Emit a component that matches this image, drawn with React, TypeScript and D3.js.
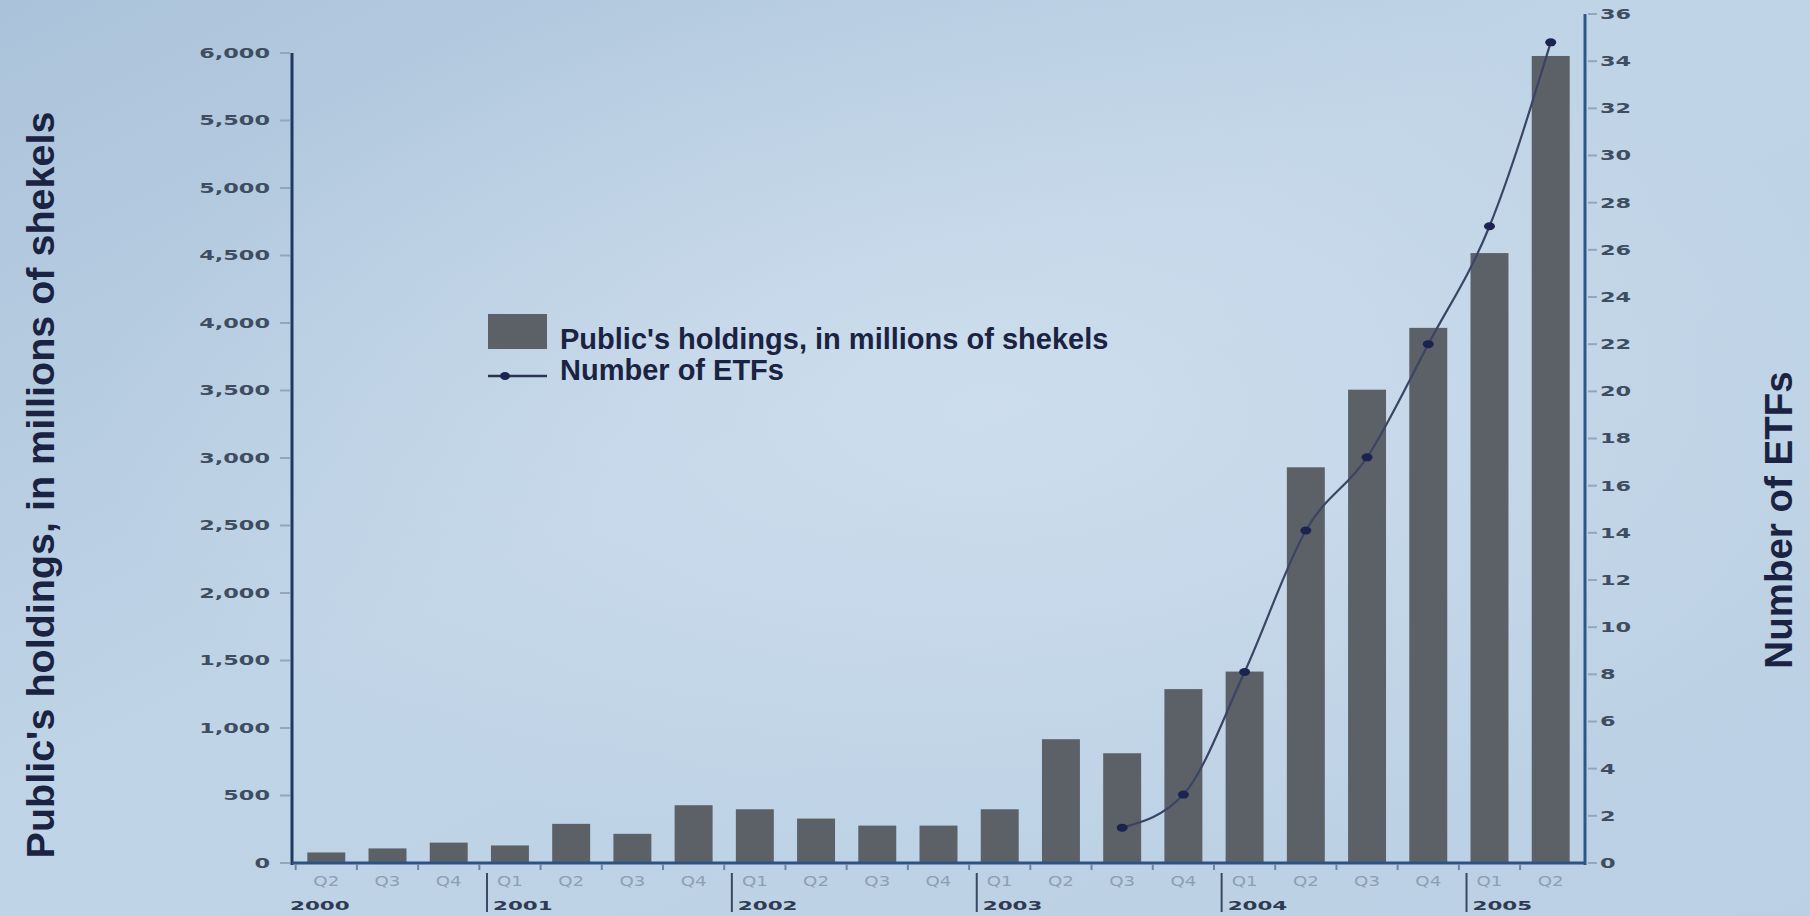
import React from 'react';
import * as d3 from 'd3';

const quarterLabels = ['Q2','Q3','Q4','Q1','Q2','Q3','Q4','Q1','Q2','Q3','Q4','Q1','Q2','Q3','Q4','Q1','Q2','Q3','Q4','Q1','Q2'];
const categoryYears = ['2000','2000','2000','2001','2001','2001','2001','2002','2002','2002','2002','2003','2003','2003','2003','2004','2004','2004','2004','2005','2005'];
const holdings = [78,108,151,130,290,216,428,398,329,277,277,398,917,813,1288,1418,2931,3506,3964,4518,5978];
const etfCounts: (number | null)[] = [null,null,null,null,null,null,null,null,null,null,null,null,null,1.5,2.9,8.1,14.1,17.2,22,27,34.8];
const leftTicks = [0,500,1000,1500,2000,2500,3000,3500,4000,4500,5000,5500,6000];
const rightTicks = [0,2,4,6,8,10,12,14,16,18,20,22,24,26,28,30,32,34,36];
const barLegend = "Public's holdings, in millions of shekels";
const lineLegend = 'Number of ETFs';
const leftTitle = "Public's holdings, in millions of shekels";
const rightTitle = 'Number of ETFs';

const W = 1810, H = 916;
const X0 = 292, X1 = 1585, Y0 = 863;

export default function App() {
  const cats = quarterLabels.map((q, i) => `${categoryYears[i]}-${q}-${i}`);
  const x = d3.scaleBand<string>().domain(cats).range([X0, X1]).paddingInner(0.38).paddingOuter(0.25);
  const yL = d3.scaleLinear().domain([0, 6000]).range([Y0, 53]);
  const yR = d3.scaleLinear().domain([0, 36]).range([Y0, 14]);
  const bw = x.bandwidth();
  const step = x.step();
  const cx = (i: number) => (x(cats[i]) as number) + bw / 2;

  const lineData = etfCounts.map((v, i) => ({ v, i }));
  const lineGen = d3.line<{ v: number | null; i: number }>()
    .defined(d => d.v != null)
    .x(d => cx(d.i))
    .y(d => yR(d.v as number))
    .curve(d3.curveMonotoneX);

  const tickFont = '"DejaVu Sans", sans-serif';
  const titleFont = '"Liberation Sans", Arial, sans-serif';

  return (
    <svg width={W} height={H} style={{ position: 'fixed', left: 0, top: 0 }}>
      <defs>
        <linearGradient id="bg" x1="0" y1="0" x2="1" y2="1">
          <stop offset="0%" stopColor="#abc3da" />
          <stop offset="45%" stopColor="#c0d4e7" />
          <stop offset="100%" stopColor="#bbd0e4" />
        </linearGradient>
        <radialGradient id="glow" cx="0.55" cy="0.45" r="0.5">
          <stop offset="0%" stopColor="#d2e1ef" stopOpacity="0.7" />
          <stop offset="100%" stopColor="#d2e1ef" stopOpacity="0" />
        </radialGradient>
      </defs>
      <rect x={0} y={0} width={W} height={H} fill="url(#bg)" />
      <rect x={0} y={0} width={W} height={H} fill="url(#glow)" />

      {/* bars */}
      {holdings.map((v, i) => (
        <rect key={'b' + i} x={x(cats[i])} y={yL(v)} width={bw} height={Y0 - yL(v)} fill="#5c6167" />
      ))}

      {/* axes lines */}
      <line x1={X0} x2={X0} y1={yL(6000)} y2={Y0 + 2} stroke="#1f3a5e" strokeWidth={3} />
      <line x1={X1} x2={X1} y1={yR(36)} y2={Y0 + 2} stroke="#2f5689" strokeWidth={3} />
      <line x1={X0} x2={X1} y1={Y0} y2={Y0} stroke="#2d5284" strokeWidth={3} />

      {/* left ticks */}
      {leftTicks.map(t => (
        <g key={'lt' + t}>
          <line x1={280} x2={290} y1={yL(t)} y2={yL(t)} stroke="#93a6bb" strokeWidth={2} />
          <g transform={`translate(270,${yL(t)}) scale(1.6,1)`}>
            <text textAnchor="end" dominantBaseline="central" fontFamily={tickFont} fontWeight="bold" fontSize={14} fill="#3f4d60">
              {d3.format(',')(t)}
            </text>
          </g>
        </g>
      ))}

      {/* right ticks */}
      {rightTicks.map(t => (
        <g key={'rt' + t}>
          <line x1={X1 + 3} x2={X1 + 12} y1={yR(t)} y2={yR(t)} stroke="#93a6bb" strokeWidth={2} />
          <g transform={`translate(1600,${yR(t)}) scale(1.6,1)`}>
            <text textAnchor="start" dominantBaseline="central" fontFamily={tickFont} fontWeight="bold" fontSize={14} fill="#3f4d60">
              {t}
            </text>
          </g>
        </g>
      ))}

      {/* x ticks at band boundaries */}
      {cats.map((c, i) => (
        <line key={'xt' + i} x1={(x(c) as number) - (step - bw) / 2} x2={(x(c) as number) - (step - bw) / 2}
          y1={Y0 + 1} y2={Y0 + 7} stroke="#6d86a5" strokeWidth={2} />
      ))}

      {/* quarter labels */}
      {quarterLabels.map((q, i) => (
        <g key={'q' + i} transform={`translate(${cx(i)},${881}) scale(1.3,1)`}>
          <text textAnchor="middle" dominantBaseline="central" fontFamily={tickFont} fontSize={14} fill="#8d9fb5">{q}</text>
        </g>
      ))}

      {/* year labels */}
      {categoryYears.map((yv, i) => {
        if (i > 0 && categoryYears[i - 1] === yv) return null;
        const sx = i === 0 ? X0 - 8 : (x(cats[i]) as number) - 4;
        return (
          <g key={'y' + i}>
            {i > 0 && <line x1={sx} x2={sx} y1={873} y2={912} stroke="#3a4860" strokeWidth={2} />}
            <g transform={`translate(${sx + 6},${906}) scale(1.65,1)`}>
              <text textAnchor="start" dominantBaseline="central" fontFamily={tickFont} fontWeight="bold" fontSize={13} fill="#2e3b52">{yv}</text>
            </g>
          </g>
        );
      })}

      {/* ETF line */}
      <path d={lineGen(lineData) || ''} fill="none" stroke="#3a4563" strokeWidth={2.2} />
      {lineData.filter(d => d.v != null).map(d => (
        <ellipse key={'m' + d.i} cx={cx(d.i)} cy={yR(d.v as number)} rx={5.5} ry={4} fill="#1b2450" />
      ))}

      {/* legend */}
      <rect x={488} y={314} width={59} height={35} fill="#5c6167" />
      <text x={560} y={349} fontFamily={titleFont} fontWeight="bold" fontSize={29} fill="#1b2342">{barLegend}</text>
      <line x1={488} x2={547} y1={376} y2={376} stroke="#2b3350" strokeWidth={2.5} />
      <ellipse cx={505} cy={376} rx={5} ry={4} fill="#1b2450" />
      <text x={560} y={380} fontFamily={titleFont} fontWeight="bold" fontSize={29} fill="#1b2342">{lineLegend}</text>

      {/* axis titles */}
      <text transform="translate(40,485) rotate(-90)" textAnchor="middle" dominantBaseline="central"
        fontFamily={titleFont} fontWeight="bold" fontSize={39.5} fill="#1b2342">{leftTitle}</text>
      <text transform="translate(1778,520) rotate(-90)" textAnchor="middle" dominantBaseline="central"
        fontFamily={titleFont} fontWeight="bold" fontSize={38.5} fill="#1b2342">{rightTitle}</text>
    </svg>
  );
}
